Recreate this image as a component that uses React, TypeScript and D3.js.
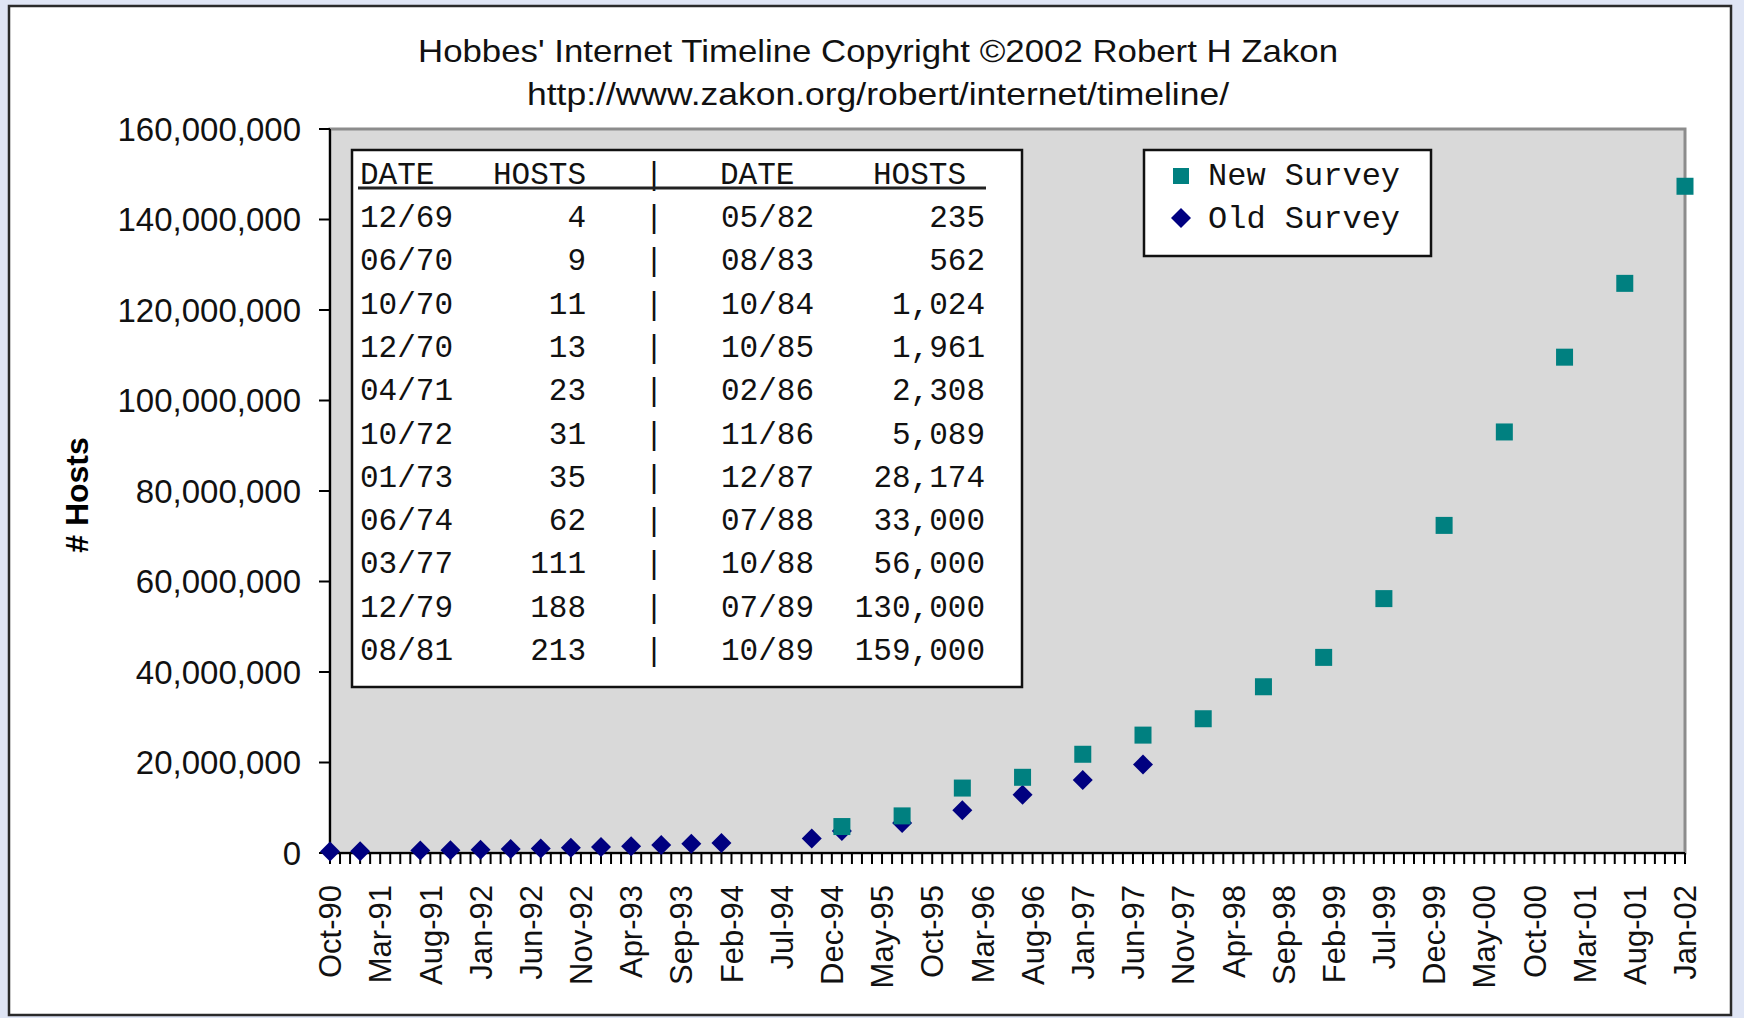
import React from 'react'
import * as d3 from 'd3'

// x category labels (every 5th month)
const xLabels = [
  'Oct-90', 'Mar-91', 'Aug-91', 'Jan-92', 'Jun-92', 'Nov-92', 'Apr-93', 'Sep-93',
  'Feb-94', 'Jul-94', 'Dec-94', 'May-95', 'Oct-95', 'Mar-96', 'Aug-96', 'Jan-97',
  'Jun-97', 'Nov-97', 'Apr-98', 'Sep-98', 'Feb-99', 'Jul-99', 'Dec-99', 'May-00',
  'Oct-00', 'Mar-01', 'Aug-01', 'Jan-02'
]
const yTicks = [0, 20e6, 40e6, 60e6, 80e6, 100e6, 120e6, 140e6, 160e6]

// old survey (diamonds)
const oldDates = [
  '1990-10', '1991-01', '1991-07', '1991-10', '1992-01', '1992-04', '1992-07',
  '1992-10', '1993-01', '1993-04', '1993-07', '1993-10', '1994-01', '1994-10',
  '1995-01', '1995-07', '1996-01', '1996-07', '1997-01', '1997-07'
]
const oldHosts = [
  313000, 376000, 535000, 617000, 727000, 890000, 992000,
  1136000, 1313000, 1486000, 1776000, 2056000, 2217000, 3212000,
  4852000, 6642000, 9472000, 12881000, 16146000, 19540000
]

// new survey (squares)
const newDates = [
  '1995-01', '1995-07', '1996-01', '1996-07', '1997-01', '1997-07', '1998-01',
  '1998-07', '1999-01', '1999-07', '2000-01', '2000-07', '2001-01', '2001-07', '2002-01'
]
const newHosts = [
  5846000, 8200000, 14352000, 16729000, 21819000, 26053000, 29670000,
  36739000, 43230000, 56218000, 72398092, 93047785, 109574429, 125888197, 147344723
]

// inset table
const tableDatesA = ['12/69', '06/70', '10/70', '12/70', '04/71', '10/72', '01/73', '06/74', '03/77', '12/79', '08/81']
const tableHostsA = ['4', '9', '11', '13', '23', '31', '35', '62', '111', '188', '213']
const tableDatesB = ['05/82', '08/83', '10/84', '10/85', '02/86', '11/86', '12/87', '07/88', '10/88', '07/89', '10/89']
const tableHostsB = ['235', '562', '1,024', '1,961', '2,308', '5,089', '28,174', '33,000', '56,000', '130,000', '159,000']

const W = 1744
const H = 1018
const plot = { left: 330, right: 1685, top: 129, bottom: 853 }

const parseYM = d3.timeParse('%Y-%m')
const parseLabel = d3.timeParse('%b-%y')
const start = parseYM('1990-10')
const monthIdx = (d) => d3.timeMonth.count(start, d)
const nMonths = monthIdx(parseYM('2002-01'))

const x = d3.scaleLinear().domain([0, nMonths]).range([plot.left, plot.right])
const y = d3.scaleLinear().domain([0, 160e6]).range([plot.bottom, plot.top])
const fmt = d3.format(',')

const sans = 'Liberation Sans, Arial, sans-serif'
const mono = 'Liberation Mono, Courier New, monospace'
const NAVY = '#000080'
const TEAL = '#008080'

const diamond = (r) => `M0,${-r}L${r},0L0,${r}L${-r},0Z`

export default function App() {
  const oldPts = oldDates.map((d, i) => ({ m: monthIdx(parseYM(d)), v: oldHosts[i] }))
  const newPts = newDates.map((d, i) => ({ m: monthIdx(parseYM(d)), v: newHosts[i] }))
  const rowY = (i) => 227 + i * 43.3

  return (
    <svg width={W} height={H} style={{ position: 'absolute', left: 0, top: 0 }}>
      <rect width={W} height={H} fill="#dfe5f5" />
      <rect x={9} y={6} width={1722} height={1009} fill="#fff" stroke="#2a2a2a" strokeWidth={2.5} />

      {/* title */}
      <text x={878} y={62} textAnchor="middle" fontFamily={sans} fontSize={32} fill="#111"
        textLength={920} lengthAdjust="spacingAndGlyphs">
        Hobbes' Internet Timeline Copyright ©2002 Robert H Zakon
      </text>
      <text x={878} y={105} textAnchor="middle" fontFamily={sans} fontSize={32} fill="#111"
        textLength={702} lengthAdjust="spacingAndGlyphs">
        http://www.zakon.org/robert/internet/timeline/
      </text>

      {/* plot area */}
      <rect x={plot.left} y={plot.top} width={plot.right - plot.left} height={plot.bottom - plot.top}
        fill="#d9d9d9" stroke="#8c8c8c" strokeWidth={3} />

      {/* y axis */}
      <line x1={plot.left} x2={plot.left} y1={plot.top} y2={plot.bottom} stroke="#000" strokeWidth={2} />
      {yTicks.map((t) => (
        <g key={t}>
          <line x1={plot.left - 11} x2={plot.left} y1={y(t)} y2={y(t)} stroke="#000" strokeWidth={2} />
          <text x={301} y={y(t)} dy="0.36em" textAnchor="end" fontFamily={sans} fontSize={33} fill="#111">
            {fmt(t)}
          </text>
        </g>
      ))}
      <text transform="translate(88,495) rotate(-90)" textAnchor="middle" fontFamily={sans}
        fontWeight="bold" fontSize={32} fill="#000">
        # Hosts
      </text>

      {/* x axis */}
      <line x1={plot.left} x2={plot.right} y1={plot.bottom} y2={plot.bottom} stroke="#000" strokeWidth={2} />
      {d3.range(nMonths + 1).map((m) => (
        <line key={m} x1={x(m)} x2={x(m)} y1={plot.bottom} y2={plot.bottom + 11} stroke="#000" strokeWidth={2} />
      ))}
      {xLabels.map((l) => {
        const xx = x(monthIdx(parseLabel(l)))
        return (
          <text key={l} transform={`translate(${xx},885) rotate(-90)`} dy="0.36em" textAnchor="end"
            fontFamily={sans} fontSize={31} fill="#111">
            {l}
          </text>
        )
      })}

      {/* inset table */}
      <rect x={352} y={150} width={670} height={537} fill="#fff" stroke="#111" strokeWidth={2.5} />
      <g fontFamily={mono} fontSize={31} fill="#111">
        <text x={360} y={184}>DATE</text>
        <text x={586} y={184} textAnchor="end">HOSTS</text>
        <text x={654} y={184} textAnchor="middle">|</text>
        <text x={720} y={184}>DATE</text>
        <text x={966} y={184} textAnchor="end">HOSTS</text>
        <line x1={358} x2={986} y1={188} y2={188} stroke="#222" strokeWidth={3} />
        {tableDatesA.map((d, i) => (
          <g key={d}>
            <text x={360} y={rowY(i)}>{d}</text>
            <text x={586} y={rowY(i)} textAnchor="end">{tableHostsA[i]}</text>
            <text x={654} y={rowY(i)} textAnchor="middle">|</text>
            <text x={721} y={rowY(i)}>{tableDatesB[i]}</text>
            <text x={985} y={rowY(i)} textAnchor="end">{tableHostsB[i]}</text>
          </g>
        ))}
      </g>

      {/* legend */}
      <rect x={1144} y={150} width={287} height={106} fill="#fff" stroke="#111" strokeWidth={2.5} />
      <rect x={1181 - 8} y={176 - 8} width={16} height={16} fill={TEAL} />
      <path d={diamond(10)} transform="translate(1181,218)" fill={NAVY} />
      <g fontFamily={mono} fontSize={32} fill="#111">
        <text x={1208} y={185}>New Survey</text>
        <text x={1208} y={228}>Old Survey</text>
      </g>

      {/* points */}
      {oldPts.map((p) => (
        <path key={'o' + p.m} d={diamond(10)} transform={`translate(${x(p.m)},${y(p.v)})`} fill={NAVY} />
      ))}
      {newPts.map((p) => (
        <rect key={'n' + p.m} x={x(p.m) - 8.5} y={y(p.v) - 8.5} width={17} height={17} fill={TEAL} />
      ))}
    </svg>
  )
}
